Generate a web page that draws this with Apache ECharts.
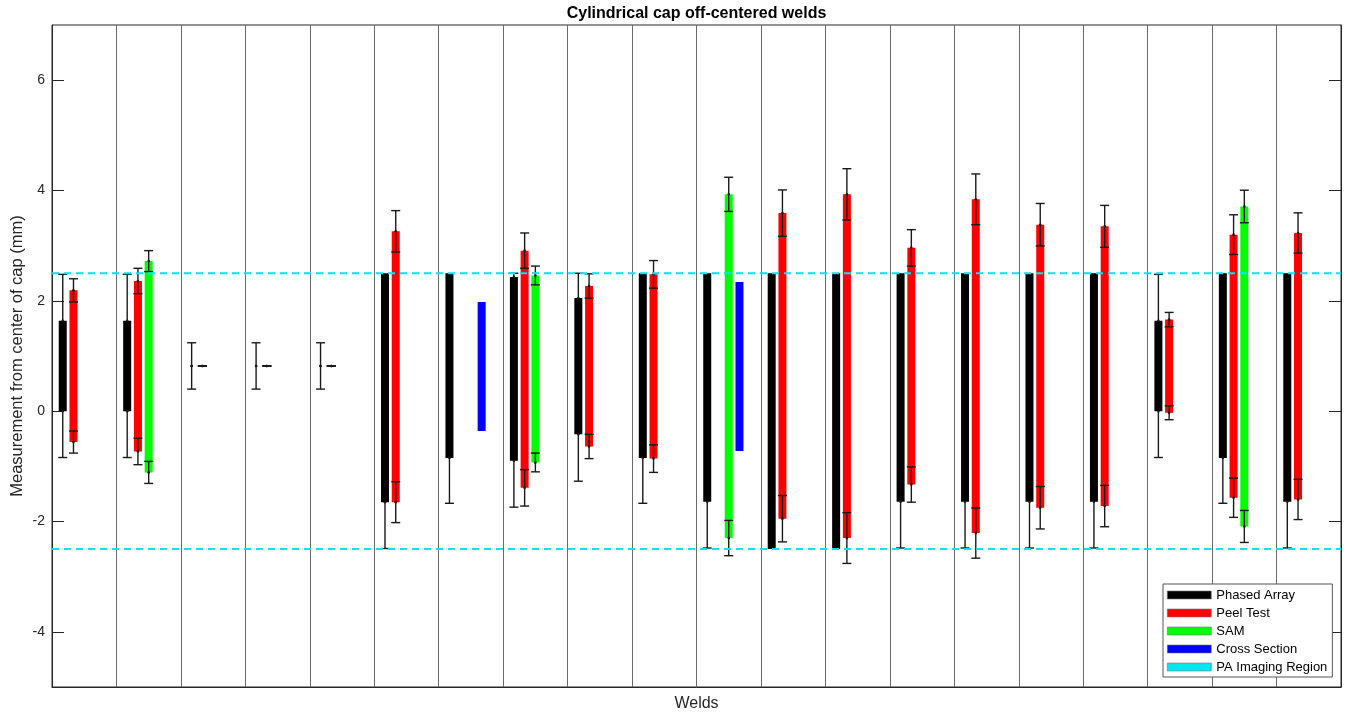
<!DOCTYPE html>
<html>
<head>
<meta charset="utf-8">
<script src="https://cdn.jsdelivr.net/npm/echarts@6/dist/echarts.min.js"></script>
<style>
  html, body { margin: 0; padding: 0; background: #fff; }
  #chart { width: 1349px; height: 715px; }
</style>
</head>
<body>
<div id="chart"></div>
<script>
// ---------- data ----------
const welds = ['1','2','3','4','5','6','7','8','9','10','11','12','13','14','15','16','17','18','19','20'];
const yTicks = [-4, -2, 0, 2, 4, 6];
const paRegion = [2.5, -2.5];

// Phased Array (black)
const paLow  = [0, 0, 0.82, 0.82, 0.82, -1.65, -0.85, -0.90, -0.42, -0.85, -1.64, -2.5, -2.5, -1.64, -1.64, -1.64, -1.64, 0, -0.85, -1.64];
const paHigh = [1.64, 1.64, 0.82, 0.82, 0.82, 2.5, 2.5, 2.43, 2.05, 2.5, 2.5, 2.5, 2.5, 2.5, 2.5, 2.5, 2.5, 1.64, 2.5, 2.5];
const paErrLow  = [0.84, 0.84, 0.42, 0.42, 0.42, 0.84, 0.82, 0.84, 0.85, 0.82, 0.84, 0, 0, 0.84, 0.84, 0.84, 0.84, 0.84, 0.82, 0.84];
const paErrHigh = [0.84, 0.84, 0.42, 0.42, 0.42, 0, 0, 0.07, 0.45, 0, 0, 0, 0, 0, 0, 0, 0, 0.84, 0, 0];

// Peel Test (red)
const ptLow  = [-0.56, -0.73, 0.82, 0.82, 0.82, -1.65, null, -1.39, -0.64, -0.86, null, -1.95, -2.30, -1.33, -2.21, -1.75, -1.72, -0.03, -1.57, -1.60];
const ptHigh = [2.19, 2.36, 0.82, 0.82, 0.82, 3.26, null, 2.91, 2.27, 2.48, null, 3.59, 3.93, 2.96, 3.84, 3.38, 3.35, 1.66, 3.20, 3.23];
const ptErrLow  = [0.20, 0.24, 0, 0, 0, 0.37, null, 0.33, 0.22, 0.25, null, 0.42, 0.46, 0.32, 0.455, 0.385, 0.375, 0.125, 0.355, 0.365];
const ptErrHigh = [0.21, 0.23, 0, 0, 0, 0.375, null, 0.32, 0.22, 0.25, null, 0.42, 0.465, 0.33, 0.46, 0.385, 0.38, 0.13, 0.36, 0.365];

// SAM (green)
const samLow  = [null, -1.11, null, null, null, null, null, -0.93, null, null, -2.30, null, null, null, null, null, null, null, -2.09, null];
const samHigh = [null, 2.72, null, null, null, null, null, 2.46, null, null, 3.93, null, null, null, null, null, null, null, 3.71, null];
const samErrLow  = [null, 0.20, null, null, null, null, null, 0.17, null, null, 0.32, null, null, null, null, null, null, null, 0.29, null];
const samErrHigh = [null, 0.19, null, null, null, null, null, 0.17, null, null, 0.31, null, null, null, null, null, null, null, 0.295, null];

// Cross Section (blue), no error bars
const csLow  = [null, null, null, null, null, null, -0.36, null, null, null, -0.72, null, null, null, null, null, null, null, null, null];
const csHigh = [null, null, null, null, null, null, 1.98, null, null, null, 2.34, null, null, null, null, null, null, null, null, null];

// ---------- chart ----------
const FONT = '"Liberation Sans", Arial, Helvetica, sans-serif';
const TXT = '#262626';
const SLOTS = 6;
const BAR_W = 8;
const CAP_HALF = 4.5;
const ERR_COLOR = '#1a1a1a';

function buildData(lo, hi, eLo, eHi) {
  const out = [];
  welds.forEach((w, i) => {
    if (lo[i] == null) return;
    out.push([i, lo[i], hi[i], eLo ? eLo[i] : -1, eHi ? eHi[i] : -1]);
  });
  return out;
}

// dir: 0 = symmetric, -1 = downward only, +1 = upward only
function whisker(api, x, v, e, dir) {
  const st = { stroke: ERR_COLOR, lineWidth: 1.4 };
  const c = api.coord([x, v]);
  const out = [];
  if (dir !== 0 && e <= 0) return out;
  const vTop = dir < 0 ? v : v + e;
  const vBot = dir > 0 ? v : v - e;
  const a = api.coord([x, vTop]);
  const b = api.coord([x, vBot]);
  out.push({ type: 'line', shape: { x1: a[0], y1: a[1], x2: b[0], y2: b[1] }, style: st });
  if (dir >= 0) out.push({ type: 'line', shape: { x1: a[0] - CAP_HALF, y1: a[1], x2: a[0] + CAP_HALF, y2: a[1] }, style: st });
  if (dir <= 0) out.push({ type: 'line', shape: { x1: b[0] - CAP_HALF, y1: b[1], x2: b[0] + CAP_HALF, y2: b[1] }, style: st });
  out.push({ type: 'circle', shape: { cx: c[0], cy: c[1], r: 1.3 }, style: { fill: ERR_COLOR } });
  return out;
}

function barSeries(name, color, slot, lo, hi, eLo, eHi, outward) {
  return {
    name: name,
    type: 'custom',
    color: color,
    itemStyle: { color: color },
    data: buildData(lo, hi, eLo, eHi),
    encode: { x: 0, y: [1, 2] },
    z: 3,
    renderItem: function (params, api) {
      const x = api.value(0) + slot / SLOTS;
      const lo = api.value(1), hi = api.value(2);
      const el = api.value(3), eh = api.value(4);
      const top = api.coord([x, hi]);
      const bot = api.coord([x, lo]);
      const children = [];
      const h = bot[1] - top[1];
      if (h > 0.5) {
        children.push({
          type: 'rect',
          shape: { x: top[0] - BAR_W / 2, y: top[1], width: BAR_W, height: h },
          style: { fill: color }
        });
      }
      if (el >= 0) children.push(...whisker(api, x, lo, el, outward ? -1 : 0));
      if (eh >= 0) children.push(...whisker(api, x, hi, eh, outward ? 1 : 0));
      return { type: 'group', children: children };
    }
  };
}

const regionSeries = {
  name: 'PA Imaging Region',
  type: 'custom',
  color: '#00e5ee',
  itemStyle: { color: '#00e5ee' },
  data: paRegion.map(v => [v]),
  encode: { y: 0 },
  z: 5,
  renderItem: function (params, api) {
    const v = api.value(0);
    const a = api.coord([0, v]);
    const b = api.coord([welds.length, v]);
    return {
      type: 'line',
      shape: { x1: a[0], y1: a[1], x2: b[0], y2: b[1] },
      style: { stroke: '#00e5ee', lineWidth: 2, lineDash: [7, 5] }
    };
  }
};

const chart = echarts.init(document.getElementById('chart'), null, { renderer: 'canvas' });

const option = {
  animation: false,
  backgroundColor: '#ffffff',
  graphic: [
    {
      type: 'text', x: 696.5, y: 6,
      style: { text: 'Cylindrical cap off-centered welds', fill: '#000', font: 'bold 16px ' + FONT, textAlign: 'center', textVerticalAlign: 'top' }
    }
  ],
  grid: {
    left: 52, right: 8, top: 25, bottom: 28,
    outerBoundsMode: 'none',
    containLabel: false,
    show: true, borderColor: TXT, borderWidth: 1, backgroundColor: 'transparent'
  },
  legend: {
    orient: 'vertical',
    left: 1163, top: 584,
    icon: 'rect',
    itemWidth: 44, itemHeight: 8, itemGap: 4,
    padding: [4, 5, 3, 4],
    borderColor: '#555', borderWidth: 1, backgroundColor: '#fff',
    textStyle: { fontFamily: FONT, fontSize: 13, color: '#000', lineHeight: 14 },
    itemStyle: { borderColor: '#777', borderWidth: 0.6 },
    data: ['Phased Array', 'Peel Test', 'SAM', 'Cross Section', 'PA Imaging Region']
  },
  xAxis: {
    type: 'value', min: 0, max: welds.length, interval: 1,
    name: 'Welds', nameLocation: 'middle', nameGap: 9, nameMoveOverlap: false,
    nameTextStyle: { fontFamily: FONT, fontSize: 16, color: TXT },
    axisLine: { show: true, onZero: false, lineStyle: { color: TXT } },
    axisTick: { show: false },
    axisLabel: { show: false },
    splitLine: { show: true, lineStyle: { color: '#6a6a6a', width: 1 } }
  },
  yAxis: [
    {
      type: 'value', min: -5, max: 7, position: 'left',
      name: 'Measurement from center of cap (mm)', nameLocation: 'middle', nameGap: 26, nameMoveOverlap: false,
      nameTextStyle: { fontFamily: FONT, fontSize: 16.5, color: TXT },
      axisLine: { show: true, onZero: false, lineStyle: { color: TXT } },
      axisTick: { show: true, inside: true, length: 12, customValues: yTicks, lineStyle: { color: TXT } },
      axisLabel: { show: true, customValues: yTicks, fontFamily: FONT, fontSize: 14, color: TXT, margin: 7 },
      splitLine: { show: false }
    },
    {
      type: 'value', min: -5, max: 7, position: 'right',
      axisLine: { show: true, onZero: false, lineStyle: { color: TXT } },
      axisTick: { show: true, inside: true, length: 12, customValues: yTicks, lineStyle: { color: TXT } },
      axisLabel: { show: false },
      splitLine: { show: false }
    }
  ],
  series: [
    barSeries('Phased Array', '#000000', 1, paLow, paHigh, paErrLow, paErrHigh, true),
    barSeries('Peel Test', '#ff0000', 2, ptLow, ptHigh, ptErrLow, ptErrHigh, false),
    barSeries('SAM', '#00ff00', 3, samLow, samHigh, samErrLow, samErrHigh, false),
    barSeries('Cross Section', '#0000ff', 4, csLow, csHigh, null, null, false),
    regionSeries
  ]
};
chart.setOption(option);
</script>
</body>
</html>
